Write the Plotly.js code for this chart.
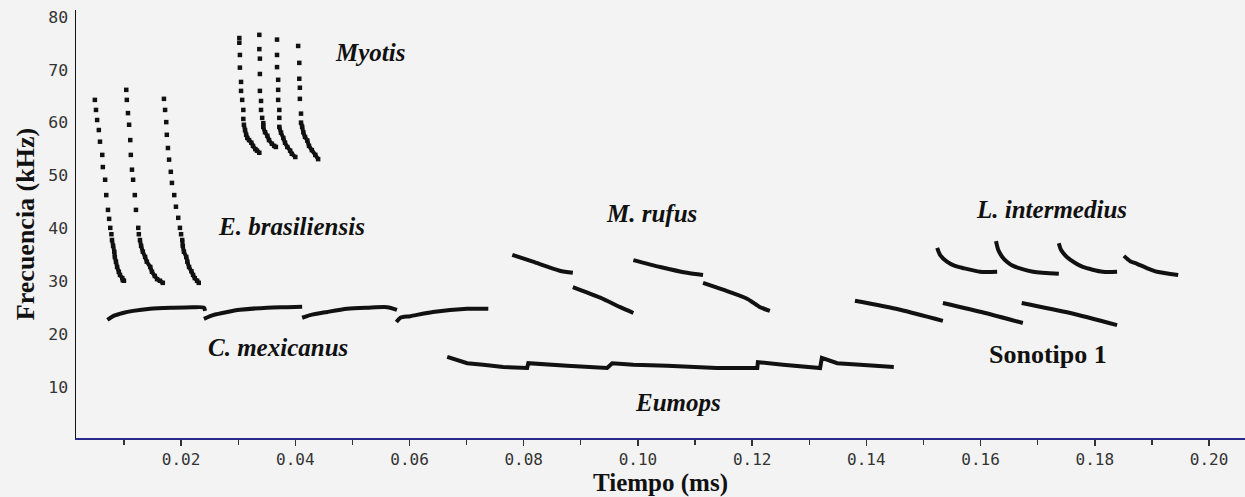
<!DOCTYPE html>
<html>
<head>
<meta charset="utf-8">
<script src="https://cdn.plot.ly/plotly-3.0.1.min.js"></script>
<style>html,body{margin:0;padding:0;background:#f3f3f3;}#chart{width:1245px;height:497px;}</style>
</head>
<body>
<div id="chart"></div>
<script>
// ---- Data (time in ms-axis units, frequency in kHz) ----
// E. brasiliensis (dotted FM calls)
const brasT1 = [.0049,.0051,.0053,.0056,.0058,.0062,.0063,.0067,.0069,.0072,.0074,.0076,.0078,.0079,.0081,.0083,.0084,.0086,.0088,.0091,.0093,.0097,.0098,.0100];
const brasF1 = [64.3,62.4,60.5,58.6,56.4,53.9,51.6,49.2,46.3,43.5,41.8,40.1,38.9,37.8,36.7,35.6,34.6,33.7,32.7,31.8,31.2,30.6,30.2,30.1];
const brasT2 = [.0104,.0105,.0107,.0109,.0111,.0112,.0114,.0116,.0119,.0121,.0125,.0126,.0128,.0130,.0133,.0137,.0140,.0146,.0149,.0154,.0158,.0163,.0168];
const brasF2 = [66.2,64.3,61.8,59.6,56.7,53.9,51.1,49.2,46.3,43.5,40.1,38.9,37.8,36.7,35.6,34.6,33.7,32.7,31.8,31.0,30.4,30.1,29.7];
const brasT3 = [.0170,.0172,.0174,.0175,.0177,.0179,.0182,.0184,.0188,.0191,.0195,.0198,.0200,.0202,.0203,.0205,.0209,.0211,.0214,.0218,.0221,.0224,.0228,.0231];
const brasF3 = [64.5,62.4,60.1,57.7,55.2,53.0,50.7,48.6,46.3,44.1,42.0,40.1,38.9,37.8,36.7,35.6,34.6,33.7,32.7,31.9,31.2,30.6,30.1,29.7];
const brasTailStart = [13, 12, 13];

// Myotis (dotted FM calls)
const myoTA = [.0302,.0302,.0303,.0303,.0305,.0305,.0307,.0309,.0309,.0310,.0312,.0314,.0316,.0319,.0323,.0326,.0330,.0333,.0337];
const myoFA = [76.0,75.1,72.8,70.4,67.7,66.0,64.3,62.4,60.7,59.6,58.6,57.7,57.1,56.7,56.2,55.6,55.0,54.7,54.3];
const myoTB = [.0337,.0337,.0338,.0338,.0338,.0340,.0340,.0342,.0344,.0344,.0347,.0351,.0354,.0359,.0363,.0366];
const myoFB = [76.6,73.9,72.1,69.2,66.0,64.1,62.4,60.9,59.9,59.2,58.2,57.5,56.7,56.0,55.6,55.4];
const myoTC = [.0368,.0368,.0368,.0370,.0370,.0370,.0372,.0372,.0372,.0375,.0379,.0382,.0386,.0391,.0394,.0400];
const myoFC = [75.7,72.8,70.5,68.1,66.2,64.3,62.4,60.9,59.2,58.1,57.1,56.2,55.4,54.7,54.1,53.5];
const myoTD = [.0405,.0407,.0407,.0408,.0408,.0410,.0410,.0412,.0414,.0417,.0421,.0424,.0429,.0435,.0440];
const myoFD = [74.5,71.3,68.3,66.6,64.5,61.7,60.0,59.2,58.2,57.3,56.6,55.6,54.8,53.9,53.1];
const myoTailStart = [9, 8, 8, 6];

// C. mexicanus
const mexT1 = [.0071,.0081,.0098,.0116,.0146,.0186,.0221,.0240,.0242];
const mexF1 = [22.7,23.4,24.0,24.4,24.8,25.0,25.1,25.0,24.4];
const mexT2 = [.0240,.0256,.0281,.0303,.0351,.0386,.0412];
const mexF2 = [22.9,23.6,24.2,24.6,25.0,25.1,25.2];
const mexT3 = [.0412,.0426,.0456,.0491,.0526,.0561,.0578];
const mexF3 = [23.1,23.6,24.2,24.8,25.0,25.1,24.6];
const mexT4 = [.0577,.0584,.0601,.0641,.0701,.0738];
const mexF4 = [22.3,23.1,23.4,24.2,24.8,24.8];

// Eumops
const eumT = [.0666,.0701,.0729,.0764,.0806,.0808,.0876,.0946,.0955,.0992,.1051,.1091,.1138,.1209,.1210,.1254,.1319,.1322,.1349,.1389,.1448];
const eumF = [15.7,14.5,14.2,13.8,13.6,14.5,14.0,13.6,14.5,14.2,14.0,13.8,13.6,13.6,14.7,14.2,13.6,15.5,14.5,14.2,13.8];

// M. rufus
const rufT1a = [.0780,.0816,.0863,.0886];
const rufF1a = [35.0,33.7,32.0,31.6];
const rufT1b = [.0886,.0934,.0969,.0992];
const rufF1b = [28.9,26.9,25.1,24.0];
const rufT2a = [.0992,.1039,.1086,.1114];
const rufF2a = [34.0,32.7,31.6,31.2];
const rufT2b = [.1114,.1149,.1191,.1214,.1231];
const rufF2b = [29.7,28.4,26.7,25.1,24.4];

// L. intermedius
const linT1 = [.1524,.1529,.1541,.1555,.1569,.1599,.1629];
const linF1 = [36.3,35.0,33.7,32.9,32.5,31.8,31.8];
const linT2 = [.1627,.1631,.1638,.1646,.1657,.1692,.1737];
const linF2 = [37.6,35.9,34.6,33.7,32.9,31.8,31.4];
const linT3 = [.1737,.1741,.1751,.1765,.1779,.1814,.1839];
const linF3 = [37.2,35.9,34.6,33.5,32.7,31.8,31.8];
const linT4 = [.1851,.1862,.1874,.1891,.1909,.1946];
const linF4 = [34.8,33.8,33.3,32.5,31.8,31.2];

// Sonotipo 1
const sonT1 = [.1380,.1459,.1534];
const sonF1 = [26.3,24.6,22.5];
const sonT2 = [.1534,.1608,.1674];
const sonF2 = [25.9,24.0,22.1];
const sonT3 = [.1672,.1757,.1839];
const sonF3 = [25.9,24.0,21.7];

// Species labels
const labelText = ['Myotis','E. brasiliensis','C. mexicanus','Eumops','M. rufus','L. intermedius','Sonotipo 1'];
const labelT = [.0531,.0394,.0370,.1070,.1023,.1725,.1718];
const labelF = [73.2,40.3,17.4,7.0,42.9,43.5,16.1];
const labelItalic = [true,true,true,true,true,true,false];

// ---- Build traces ----
const INK = '#111111';
const traces = [];
function dotted(t, f, tail) {
  traces.push({x: t, y: f, type: 'scatter', mode: 'markers', hoverinfo: 'skip',
    marker: {symbol: 'square', size: 4.5, color: INK, line: {width: 0}}});
  traces.push({x: t.slice(tail), y: f.slice(tail), type: 'scatter', mode: 'lines', hoverinfo: 'skip',
    line: {color: INK, width: 4, shape: 'spline', smoothing: 0.6}});
}
function solid(t, f, smooth) {
  traces.push({x: t, y: f, type: 'scatter', mode: 'lines', hoverinfo: 'skip',
    line: smooth ? {color: INK, width: 4, shape: 'spline', smoothing: 0.7} : {color: INK, width: 4}});
}
dotted(brasT1, brasF1, brasTailStart[0]);
dotted(brasT2, brasF2, brasTailStart[1]);
dotted(brasT3, brasF3, brasTailStart[2]);
dotted(myoTA, myoFA, myoTailStart[0]);
dotted(myoTB, myoFB, myoTailStart[1]);
dotted(myoTC, myoFC, myoTailStart[2]);
dotted(myoTD, myoFD, myoTailStart[3]);
[[mexT1,mexF1],[mexT2,mexF2],[mexT3,mexF3],[mexT4,mexF4]].forEach(p => solid(p[0], p[1], true));
solid(eumT, eumF, false);
[[rufT1a,rufF1a],[rufT1b,rufF1b],[rufT2a,rufF2a],[rufT2b,rufF2b]].forEach(p => solid(p[0], p[1], true));
[[linT1,linF1],[linT2,linF2],[linT3,linF3],[linT4,linF4]].forEach(p => solid(p[0], p[1], true));
[[sonT1,sonF1],[sonT2,sonF2],[sonT3,sonF3]].forEach(p => solid(p[0], p[1], true));

const annotations = labelText.map((txt, i) => ({
  x: labelT[i], y: labelF[i], xref: 'x', yref: 'y', showarrow: false,
  text: labelItalic[i] ? '<b><i>' + txt + '</i></b>' : '<b>' + txt + '</b>',
  font: {family: 'Liberation Serif, serif', size: labelItalic[i] ? 25 : 26, color: INK}
}));

const layout = {
  width: 1245, height: 497,
  margin: {l: 76, r: 0, t: 10, b: 59},
  paper_bgcolor: '#f3f3f3', plot_bgcolor: '#f3f3f3',
  showlegend: false,
  xaxis: {
    range: [0.0016, 0.2063], showgrid: false, zeroline: false,
    showline: true, linecolor: '#2a2a8c', linewidth: 2,
    ticks: 'outside', ticklen: 6, tickwidth: 1.5, tickcolor: '#333',
    tick0: 0, dtick: 0.02, tickformat: '.2f',
    minor: {dtick: 0.01, ticks: 'outside', ticklen: 5, tickwidth: 1.2, tickcolor: '#333'},
    tickfont: {family: 'DejaVu Sans Mono, monospace', size: 16, color: '#333'},
    title: {text: '<b>Tiempo (ms)</b>', standoff: 9,
      font: {family: 'Liberation Serif, serif', size: 25, color: INK}},
    automargin: false
  },
  yaxis: {
    range: [0.36, 81.3], showgrid: false, zeroline: false,
    showline: true, linecolor: INK, linewidth: 1.5,
    ticks: '', tick0: 0, dtick: 10,
    tickfont: {family: 'DejaVu Sans Mono, monospace', size: 16.5, color: '#333'},
    ticklabelstandoff: 3,
    title: {text: '<b>Frecuencia (kHz)</b>', standoff: 6,
      font: {family: 'Liberation Serif, serif', size: 26, color: INK}},
    automargin: false
  },
  annotations: annotations
};

Plotly.newPlot('chart', traces, layout, {displayModeBar: false, staticPlot: true});
</script>
</body>
</html>
